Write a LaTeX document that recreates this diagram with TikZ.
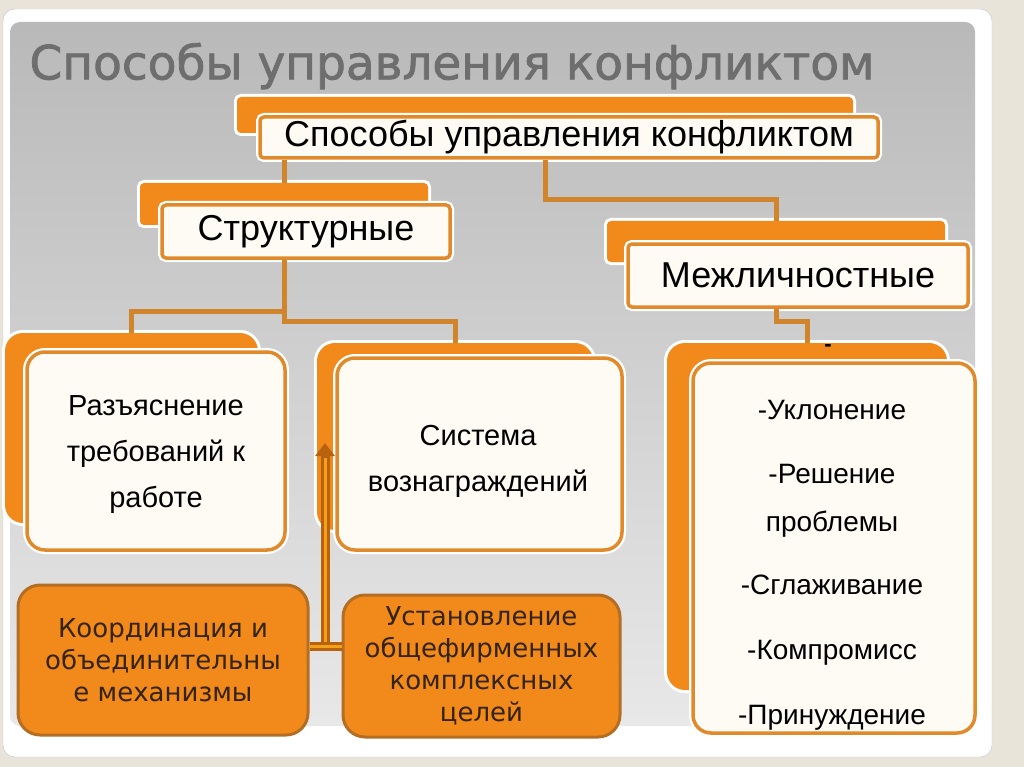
\documentclass[tikz,border=0pt]{standalone}
\usepackage{fontspec}
\setmainfont{Liberation Sans}
\newfontfamily\dejavu{DejaVu Sans}
\newfontfamily\titlefont[FakeBold=1.6]{DejaVu Sans}
\usetikzlibrary{arrows.meta,positioning}

\definecolor{pagebg}{HTML}{E8E4D9}
\definecolor{boxorange}{HTML}{F18A1B}
\definecolor{rimorange}{HTML}{E08A2C}
\definecolor{linkorange}{HTML}{D0842C}
\definecolor{arrowdark}{HTML}{B8620E}
\definecolor{creamfill}{HTML}{FEFAF4}
\definecolor{titlegray}{HTML}{6E6E6E}
\definecolor{darktext}{HTML}{33230F}

\tikzset{
  backbox/.style={fill=boxorange, inner sep=0pt, rounded corners=4pt,
    preaction={draw=white, line width=6pt}},
  frontbox/.style={fill=creamfill, draw=rimorange, line width=3.5pt,
    rounded corners=4pt, inner sep=0pt, align=center,
    preaction={draw=white, line width=8pt}},
  headfont/.style={font=\fontsize{36}{40}\selectfont},
  boxfont/.style={align=center, font=\fontsize{29}{46}\selectfont},
  link/.style={draw=linkorange, line width=5pt},
  mechbox/.style={fill=boxorange, draw=rimorange!80!black, line width=3pt,
    rounded corners=22pt, inner sep=0pt, align=center, text=darktext,
    font=\dejavu\fontsize{26}{32}\selectfont},
}

\begin{document}
\begin{tikzpicture}[x=1pt,y=-1pt]
  \useasboundingbox (0,0) rectangle (1024,767);

  % slide background
  \fill[pagebg] (0,0) rectangle (1024,767);
  \draw[gray!45, fill=white, rounded corners=12pt] (3,9) rectangle (992,757);
  \shade[rounded corners=10pt, top color=gray!55, middle color=gray!25,
    bottom color=gray!18] (10,22) rectangle (975,726);

  % slide title
  \node[text=titlegray, font=\titlefont\fontsize{47}{52}\selectfont] (title)
    at (452,66) {Способы управления конфликтом};

  % header boxes, back parts
  \node[backbox, minimum width=616pt, minimum height=36pt] (topB) at (545,115) {};
  \node[backbox, minimum width=288pt, minimum height=42pt] (structB) at (284,204) {};
  \node[backbox, minimum width=338pt, minimum height=41pt] (interB) at (776,241.5) {};

  % content boxes, back parts
  \node[backbox, rounded corners=18pt, minimum width=253pt, minimum height=190pt]
    (leftB) at (131.5,428) {};
  \node[backbox, rounded corners=18pt, minimum width=276pt, minimum height=187pt]
    (midB) at (455,436.5) {};
  \node[backbox, rounded corners=18pt, minimum width=280pt, minimum height=347pt]
    (rightB) at (807,516.5) {};

  % header boxes, front parts
  \node[frontbox, headfont, minimum width=618pt, minimum height=41pt] (top)
    at (569,137.5) {Способы управления конфликтом};
  \node[frontbox, headfont, minimum width=288pt, minimum height=53pt] (struct)
    at (306,231.5) {Структурные};
  \node[frontbox, headfont, minimum width=340pt, minimum height=63pt] (inter)
    at (798,275.5) {Межличностные};

  % connectors
  \draw[link] (top.south -| structB.north) -- (structB.north);
  \draw[link] (top.south -| topB.south) -- ++(0,40) -| (interB.north);
  \draw[link] (struct.south -| structB.south) -- ++(0,52) -| (leftB.north);
  \draw[link] (struct.south -| structB.south) -- ++(0,62) -| (midB.north);
  \draw[link] (inter.south -| interB.south) -- ++(0,13) -| (rightB.north);

  % content boxes, front parts
  \node[frontbox, rounded corners=18pt, minimum width=258pt, minimum height=198pt]
    (left) at (156,451) {};
  \node[frontbox, rounded corners=18pt, minimum width=285pt, minimum height=192pt]
    (mid) at (479.5,454) {};
  \node[frontbox, rounded corners=18pt, minimum width=282pt, minimum height=370pt]
    (right) at (834,548) {};

  \node[boxfont] (leftTxt) at (156,455) {Разъяснение\\требований к\\работе};
  \node[boxfont] (midTxt) at (478,461) {Система\\вознаграждений};
  \node[boxfont, font=\fontsize{28}{48}\selectfont] (listTxt) at (832,565)
    {-Уклонение\\[16pt]-Решение\\проблемы\\[15pt]-Сглаживание\\[17pt]-Компромисс\\[17pt]-Принуждение};
  \node[font=\bfseries\fontsize{22}{22}\selectfont] (dashMark) at (828,348) {-};

  % integrating mechanisms
  \node[mechbox, minimum width=290pt, minimum height=150pt] (coord) at (163,660)
    {Координация и\\объединительны\\е механизмы};
  \node[mechbox, minimum width=277pt, minimum height=142pt] (goals) at (481.5,666)
    {Установление\\общефирменных\\комплексных\\целей};

  \coordinate (fork) at (325,646);
  \coordinate (tip) at (325,443);
  \draw[arrowdark, line width=9pt, -{Triangle[width=19pt,length=13pt]}] (fork) -- (tip);
  \draw[boxorange!80!yellow, line width=3pt] (fork) -- ++(0,-188);
  \draw[arrowdark, line width=9pt] (coord.east |- fork) -- (goals.west |- fork);
  \draw[boxorange!80!yellow, line width=3pt] (coord.east |- fork) -- (goals.west |- fork);
\end{tikzpicture}
\end{document}
